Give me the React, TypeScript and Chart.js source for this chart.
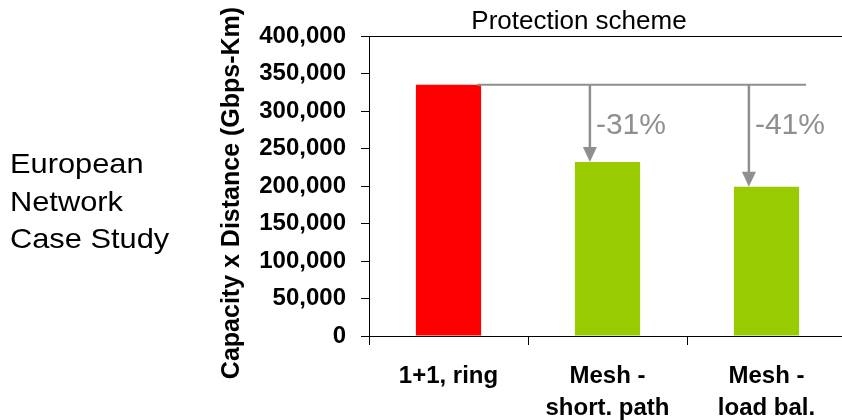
import React, { useEffect, useRef } from "react";
import { Chart, registerables } from "chart.js";

Chart.register(...registerables);

const categories: string[][] = [["1+1, ring"], ["Mesh -", "short. path"], ["Mesh -", "load bal."]];
const values: number[] = [335000, 232000, 199000];
const barColors: string[] = ["#ff0000", "#99cc00", "#99cc00"];
const reductionLabels: string[] = ["", "-31%", "-41%"];
const yMin = 0;
const yMax = 400000;
const yStep = 50000;
const yAxisTitle = "Capacity x Distance (Gbps-Km)";
const chartTitle = "Protection scheme";
const sideNote: string[] = ["European", "Network", "Case Study"];

const FONT = "'Liberation Sans', Arial, Helvetica, sans-serif";
const GRAY = "#8f8f8f";

const overlayPlugin = {
  id: "overlay",
  afterDatasetsDraw(chart: any) {
    const ctx = chart.ctx;
    const meta = chart.getDatasetMeta(0);
    const yScale = chart.scales.y;
    const first = meta.data[0];
    const last = meta.data[meta.data.length - 1];
    const yRef = yScale.getPixelForValue(values[0]);
    ctx.save();
    ctx.strokeStyle = GRAY;
    ctx.fillStyle = GRAY;
    ctx.lineWidth = 2;
    ctx.beginPath();
    ctx.moveTo(first.x + first.width / 2 - 4, yRef);
    ctx.lineTo(last.x + last.width / 2 + 7, yRef);
    ctx.stroke();
    for (let i = 1; i < meta.data.length; i++) {
      const bar = meta.data[i];
      const ax = bar.x - bar.width * 0.27;
      const tip = bar.y;
      const head = 15;
      ctx.beginPath();
      ctx.lineWidth = 2.5;
      ctx.moveTo(ax, yRef);
      ctx.lineTo(ax, tip - head + 1);
      ctx.stroke();
      ctx.beginPath();
      ctx.moveTo(ax - 7, tip - head);
      ctx.lineTo(ax + 7, tip - head);
      ctx.lineTo(ax, tip);
      ctx.closePath();
      ctx.fill();
      ctx.font = `30px ${FONT}`;
      ctx.textAlign = "left";
      ctx.textBaseline = "alphabetic";
      ctx.fillText(reductionLabels[i], ax + 6, yRef + 49);
    }
    ctx.restore();
  },
  afterDraw(chart: any) {
    const ctx = chart.ctx;
    const area = chart.chartArea;
    ctx.save();
    ctx.fillStyle = "#000";
    // chart title
    ctx.font = `26px ${FONT}`;
    ctx.textAlign = "center";
    ctx.textBaseline = "alphabetic";
    ctx.fillText(chartTitle, area.left + 210, area.top - 7);
    // y axis title
    ctx.save();
    ctx.font = `bold 25px ${FONT}`;
    ctx.translate(area.left - 130, (area.top + area.bottom) / 2 + 7);
    ctx.rotate(-Math.PI / 2);
    ctx.textAlign = "center";
    ctx.fillText(yAxisTitle, 0, 0);
    ctx.restore();
    // side note
    ctx.save();
    ctx.font = `28px ${FONT}`;
    ctx.textAlign = "left";
    ctx.scale(1.1, 1);
    sideNote.forEach((line, i) => {
      ctx.fillText(line, 10 / 1.1, 173 + i * 37.7);
    });
    ctx.restore();
    ctx.restore();
  },
};

export default function App() {
  const canvasRef = useRef<HTMLCanvasElement | null>(null);

  useEffect(() => {
    if (!canvasRef.current) return;
    Chart.defaults.font.family = FONT;
    const chart = new Chart(canvasRef.current, {
      type: "bar",
      data: {
        labels: categories,
        datasets: [
          {
            data: values,
            backgroundColor: barColors,
            borderWidth: 0,
            barPercentage: 0.41,
            categoryPercentage: 1,
          },
        ],
      },
      options: {
        animation: false,
        responsive: false,
        maintainAspectRatio: false,
        layout: { padding: { top: 36, right: 14, left: 0, bottom: 0 } },
        plugins: {
          legend: { display: false },
          tooltip: { enabled: false },
          title: { display: false },
        },
        scales: {
          x: {
            type: "category",
            offset: true,
            grid: {
              offset: true,
              drawOnChartArea: false,
              drawTicks: true,
              tickLength: 9,
              color: "#000",
              tickColor: "#000",
            },
            border: { display: true, color: "#000", width: 1 },
            ticks: {
              color: "#000",
              font: { family: FONT, size: 24, weight: "bold", lineHeight: 1.333 },
              padding: 15,
              maxRotation: 0,
              autoSkip: false,
            },
            afterFit: (s: any) => {
              s.height = 84;
            },
          },
          y: {
            min: yMin,
            max: yMax,
            grid: {
              drawOnChartArea: true,
              color: (c: any) => (c.tick && c.tick.value === yMax ? "#000" : "rgba(0,0,0,0)"),
              tickColor: "#000",
              tickLength: 8,
              lineWidth: 1,
            },
            border: { display: true, color: "#000", width: 1 },
            ticks: {
              stepSize: yStep,
              color: "#000",
              padding: 15,
              font: { family: FONT, size: 24, weight: "bold" },
              callback: (v: any) => Number(v).toLocaleString("en-US"),
            },
            afterFit: (s: any) => {
              s.width = 369;
            },
          },
        },
      },
      plugins: [overlayPlugin],
    });
    return () => chart.destroy();
  }, []);

  return (
    <div
      style={{
        position: "absolute",
        left: 0,
        top: 0,
        width: 842,
        height: 420,
        overflow: "hidden",
        background: "#fff",
      }}
    >
      <canvas ref={canvasRef} width={860} height={420} style={{ display: "block" }} />
    </div>
  );
}
